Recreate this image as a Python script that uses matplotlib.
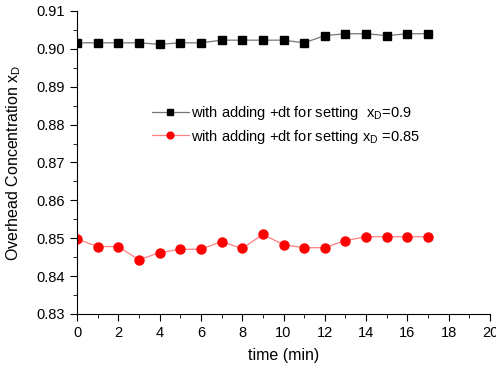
import numpy as np
import matplotlib.pyplot as plt
from matplotlib.ticker import MultipleLocator

plt.rcParams['font.family'] = ['Liberation Sans', 'DejaVu Sans']

time = np.arange(0, 18)
xd_09 = [0.9016, 0.9016, 0.9016, 0.9016, 0.9012, 0.9016, 0.9016, 0.9023, 0.9023,
         0.9023, 0.9023, 0.9016, 0.9035, 0.9040, 0.9040, 0.9035, 0.9040, 0.9040]
xd_085 = [0.8498, 0.8478, 0.8478, 0.8443, 0.8462, 0.8471, 0.8471, 0.8491, 0.8473,
          0.8510, 0.8483, 0.8475, 0.8475, 0.8494, 0.8504, 0.8504, 0.8504, 0.8504]

fig = plt.figure(figsize=(4.96, 3.68), dpi=100)
ax = fig.add_axes([77 / 496, 1 - 314 / 368, (490 - 77) / 496, (314 - 11) / 368])

ax.plot(time, xd_09, color='#777777', lw=0.9, marker='s', ms=5.5,
        mfc='black', mec='black',
        label=r'with adding +dt for setting  x$_\mathregular{D}$=0.9')
ax.plot(time, xd_085, color='#ff8080', lw=0.9, marker='o', ms=6.5,
        mfc='red', mec='red',
        label=r'with adding +dt for setting x$_\mathregular{D}$ =0.85')

ax.set_xlim(0, 20)
ax.set_ylim(0.83, 0.91)
ax.xaxis.set_major_locator(MultipleLocator(2))
ax.xaxis.set_minor_locator(MultipleLocator(1))
ax.yaxis.set_major_locator(MultipleLocator(0.01))
ax.yaxis.set_minor_locator(MultipleLocator(0.005))
ax.yaxis.set_major_formatter(plt.FormatStrFormatter('%.2f'))
ax.spines['top'].set_visible(False)
ax.spines['right'].set_visible(False)
ax.tick_params(which='major', direction='out', length=5, labelsize=10.5)
ax.tick_params(which='minor', direction='out', length=3)
ax.set_xlabel('time (min)', fontsize=11.5, labelpad=6)
ax.set_ylabel(r'Overhead Concentration x$_\mathregular{D}$', fontsize=11.5, labelpad=10)

ax.legend(loc='upper left', bbox_to_anchor=(0.15, 0.735), frameon=False,
          fontsize=10.5, handlelength=2.5, handletextpad=0.15, labelspacing=0.35,
          markerscale=0.75)

fig.savefig('out.png', dpi=100)
